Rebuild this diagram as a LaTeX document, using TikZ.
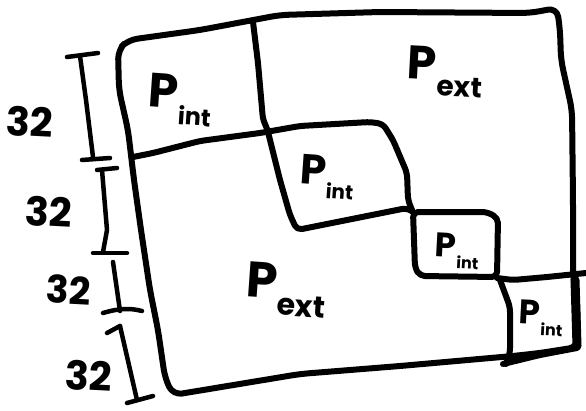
\documentclass[tikz,border=0pt]{standalone}
\usepackage{fontspec}
\setmainfont{Poppins}
\newcommand\plab[3]{{\fontsize{#1}{#1}\selectfont\bfseries P\kern0.02em\raisebox{-0.32em}{\fontsize{#2}{#2}\selectfont #3}}}
\begin{document}
\begin{tikzpicture}[x=1pt,y=-1pt,
  pen/.style={line width=6pt,line cap=round,line join=round,rounded corners=5pt},
  dim/.style={line width=4.5pt,line cap=round,line join=round},
  lbl/.style={inner sep=0pt,anchor=center}]
\useasboundingbox (0,0) rectangle (586,410);
% outer frame
\draw[pen,rounded corners=9pt] (118,50) -- (128,40) -- (200,30) -- (280,15) -- (380,12) -- (530,13) -- (557,8) -- (560,30) -- (561,60) -- (572,110) -- (573,200) -- (573,277) -- (577,300) -- (578,347) -- (540,353) -- (513,356) -- (400,366) -- (300,374) -- (173,395) -- (165,378) -- (158,330) -- (150,290) -- (141,230) -- (134,180) -- (128,130) -- (119,90) -- cycle;
% divider and second box
\draw[pen] (253,22) -- (258,63) -- (263,120) -- (267,128) -- (280,180) -- (290,215) -- (297,230) -- (347,220) -- (407,208) -- (413,212);
\draw[pen] (133,157) -- (153,153) -- (200,141) -- (260,133) -- (300,126) -- (370,122) -- (383,124) -- (393,140) -- (407,173) -- (408,200) -- (412,210);
% third box
\draw[pen] (413,212) -- (487,212) -- (498,218) -- (497,277) -- (420,276) -- (415,268) -- cycle;
% fourth box
\draw[pen] (497,278) -- (513,280) -- (547,277) -- (586,273);
\draw[pen] (500,280) -- (510,307) -- (510,353) -- (506,364);
\draw[pen] (503,364) -- (540,355) -- (577,348);
\draw[line width=9pt,line cap=round] (575,280) -- (577,346);
% dimension lines
\draw[dim] (67,57) -- (98,53);
\draw[dim] (80,56) -- (86,100) -- (93,157);
\draw[dim] (82,160) -- (110,158);
\draw[dim] (97,170) -- (117,168);
\draw[dim] (102,170) -- (107,230) -- (103,252);
\draw[dim] (93,253) -- (127,253);
\draw[dim] (113,262) -- (117,290) -- (120,311);
\draw[dim] (103,313) .. controls (120,308) and (130,308) .. (142,311);
\draw[dim] (107,333) -- (120,326);
\draw[dim] (120,326) -- (137,400);
\draw[dim] (127,403) -- (153,396);
% labels
\node[lbl,rotate=-3] (l1) at (30,122) {\fontsize{40}{40}\selectfont\bfseries 32};
\node[lbl,rotate=-3] (l2) at (49,212) {\fontsize{40}{40}\selectfont\bfseries 32};
\node[lbl,rotate=-3] (l3) at (69,290) {\fontsize{38}{38}\selectfont\bfseries 32};
\node[lbl,rotate=-3] (l4) at (89,376) {\fontsize{40}{40}\selectfont\bfseries 32};
\node[lbl,rotate=-4] (p1) at (180,100) {\plab{48}{24}{int}};
\node[lbl,rotate=-3] (p2) at (445,72) {\plab{47}{28}{ext}};
\node[lbl,rotate=-4] (p3) at (327,177) {\plab{42}{20}{int}};
\node[lbl,rotate=-3] (p4) at (457,251) {\plab{34}{16}{int}};
\node[lbl,rotate=-3] (p5) at (541,318) {\plab{34}{16}{int}};
\node[lbl,rotate=-4] (p6) at (286,290) {\plab{50}{30}{ext}};
\end{tikzpicture}
\end{document}
